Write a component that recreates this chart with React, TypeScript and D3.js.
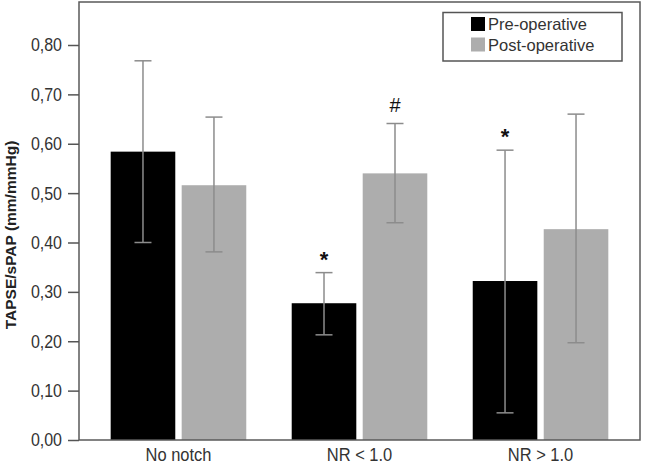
import React, { useEffect, useRef } from 'react';
import * as d3 from 'd3';

const categories = ['No notch', 'NR < 1.0', 'NR > 1.0'];
const seriesNames = ['Pre-operative', 'Post-operative'];
const preMean = [0.584, 0.277, 0.322];
const preLow = [0.4, 0.213, 0.055];
const preHigh = [0.768, 0.339, 0.587];
const postMean = [0.516, 0.54, 0.427];
const postLow = [0.381, 0.44, 0.197];
const postHigh = [0.654, 0.641, 0.66];
const preMarks = ['', '*', '*'];
const postMarks = ['', '#', ''];
const yTicks = [0, 0.1, 0.2, 0.3, 0.4, 0.5, 0.6, 0.7, 0.8];

const W = 645;
const H = 465;
const FONT = 'Arial, "Liberation Sans", sans-serif';

export default function App() {
  const ref = useRef<SVGSVGElement>(null);

  useEffect(() => {
    if (!ref.current) return;
    const svg = d3.select(ref.current);
    svg.selectAll('*').remove();

    const left = 79, right = 640, top = 2, bottom = 440;

    const x = d3.scaleBand().domain(categories).range([left, right])
      .paddingInner(0.251).paddingOuter(0.175);
    const xs = d3.scaleBand().domain(seriesNames).range([0, x.bandwidth()])
      .paddingInner(0.09);
    const y = d3.scaleLinear().domain([0, 0.8]).range([bottom, 45]);

    const colors = ['#000000', '#adadad'];
    const series = [
      { name: seriesNames[0], mean: preMean, low: preLow, high: preHigh, marks: preMarks, color: colors[0] },
      { name: seriesNames[1], mean: postMean, low: postLow, high: postHigh, marks: postMarks, color: colors[1] },
    ];

    svg.append('rect').attr('x', 0).attr('y', 0).attr('width', W).attr('height', H).attr('fill', '#fff');

    // bars
    series.forEach(s => {
      categories.forEach((c, i) => {
        const bx = (x(c) || 0) + (xs(s.name) || 0);
        svg.append('rect')
          .attr('x', bx).attr('y', y(s.mean[i]))
          .attr('width', xs.bandwidth()).attr('height', y(0) - y(s.mean[i]))
          .attr('fill', s.color);
      });
    });

    // error bars + significance marks
    series.forEach(s => {
      categories.forEach((c, i) => {
        const cx = (x(c) || 0) + (xs(s.name) || 0) + xs.bandwidth() / 2;
        const g = svg.append('g').attr('stroke', '#8c8c8c').attr('stroke-width', 1.5);
        g.append('line').attr('x1', cx).attr('x2', cx).attr('y1', y(s.low[i])).attr('y2', y(s.high[i]));
        [s.low[i], s.high[i]].forEach(v => {
          g.append('line').attr('x1', cx - 8.5).attr('x2', cx + 8.5).attr('y1', y(v)).attr('y2', y(v));
        });
        if (s.marks[i]) {
          const isStar = s.marks[i] === '*';
          svg.append('text')
            .attr('x', cx).attr('y', y(s.high[i]) - (isStar ? 6 : 12))
            .attr('text-anchor', 'middle')
            .attr('font-family', FONT)
            .attr('font-size', isStar ? 22 : 20)
            .attr('font-weight', isStar ? 'bold' : 'normal')
            .attr('fill', '#111')
            .text(s.marks[i]);
        }
      });
    });

    // frame
    svg.append('rect')
      .attr('x', left).attr('y', top).attr('width', right - left).attr('height', bottom - top)
      .attr('fill', 'none').attr('stroke', '#5a5a5a').attr('stroke-width', 1.5);

    // y axis
    const yAxis = svg.append('g').attr('transform', `translate(${left},0)`)
      .call(d3.axisLeft(y).tickValues(yTicks).tickSize(11).tickPadding(6)
        .tickFormat(d => d3.format('.2f')(d as number).replace('.', ',')));
    yAxis.select('.domain').remove();
    yAxis.selectAll('line').attr('stroke', '#555').attr('stroke-width', 1.5);
    yAxis.selectAll('.tick text')
      .attr('font-family', FONT).attr('font-size', 16).attr('fill', '#333')
      .attr('transform', 'scale(1,1.15)');

    // x labels
    categories.forEach(c => {
      svg.append('text')
        .attr('transform', `translate(${(x(c) || 0) + x.bandwidth() / 2},461) scale(1,1.12)`)
        .attr('text-anchor', 'middle')
        .attr('font-family', FONT).attr('font-size', 16.5).attr('fill', '#333')
        .text(c);
    });

    // y title
    svg.append('text')
      .attr('transform', `translate(15.5,235) rotate(-90)`)
      .attr('text-anchor', 'middle')
      .attr('font-family', FONT).attr('font-size', 15.5).attr('font-weight', 'bold').attr('fill', '#222')
      .text('TAPSE/sPAP (mm/mmHg)');

    // legend
    const lg = svg.append('g');
    lg.append('rect').attr('x', 443).attr('y', 12.5).attr('width', 179).attr('height', 48.5)
      .attr('fill', '#fff').attr('stroke', '#555').attr('stroke-width', 1.5);
    series.forEach((s, i) => {
      lg.append('rect').attr('x', 471).attr('y', 17 + i * 20.5).attr('width', 14).attr('height', 14)
        .attr('fill', s.color);
      lg.append('text').attr('x', 488).attr('y', 30 + i * 21)
        .attr('font-family', FONT).attr('font-size', 16.5).attr('fill', '#333')
        .text(s.name);
    });
  }, []);

  return (
    <svg ref={ref} width={W} height={H} style={{ position: 'absolute', left: 0, top: 0 }} />
  );
}
